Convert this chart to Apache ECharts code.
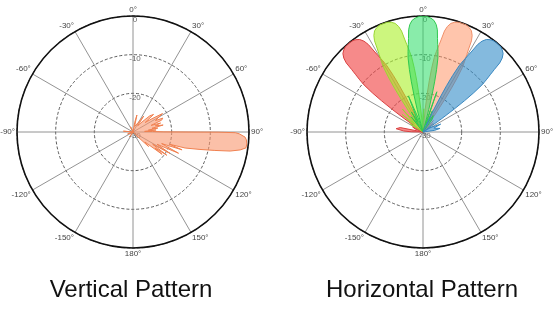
<!DOCTYPE html>
<html>
<head>
<meta charset="utf-8">
<script src="https://cdn.jsdelivr.net/npm/echarts@6/dist/echarts.min.js"></script>
<style>
html,body{margin:0;padding:0;background:#fff;}
#chart{width:555px;height:312px;}
</style>
</head>
<body>
<div id="chart"></div>
<script>
// Angle ticks (degrees, clockwise from top) and radial ticks (dB)
const angleTicks = [0, 30, 60, 90, 120, 150, 180, 210, 240, 270, 300, 330];
const radialTicks = [-30, -20, -10, 0];
const titles = ['Vertical Pattern', 'Horizontal Pattern'];

// Vertical pattern
const vAngles = [0, 5, 10, 13, 16, 22, 30, 34, 37, 42, 46, 49.5, 52, 55, 58, 60.5, 63, 65, 67.5, 70, 72, 74.5, 77, 79, 81, 83, 85, 87, 88.5, 89.7, 90.1, 90.4, 91, 92.6, 94, 96, 98, 99.5, 101.1, 102.7, 104.6, 107.1, 108.5, 110, 112, 115, 117, 120, 122, 124.5, 126, 127.5, 130, 133, 137, 145, 200, 215, 225, 250, 262, 275, 285, 320, 335, 345, 360];
const vDb = [-30, -30, -27.5, -25.5, -28.5, -29, -27, -25, -28, -26.5, -24, -23, -26, -24, -21, -21, -23.5, -21.5, -22, -25, -22.5, -24, -22, -25, -23.5, -26, -24, -27, -25, -22, -8, -3.5, -2.5, -1, -0.6, -0.4, -0.5, -1.9, -4.4, -8.3, -12.1, -15.9, -20, -16.5, -22, -17, -23, -19, -24, -19.4, -23, -20.5, -26, -24.5, -29, -30, -30, -28.5, -30, -28.5, -30, -27.5, -30, -30, -28.5, -30, -30];

// Horizontal pattern: five beams
const redAngles = [268, 271, 273, 277, 281, 284, 290, 296, 300, 304.5, 305.5, 306.3, 307, 307.7, 308.6, 309.5, 310.5, 311.2, 312, 313, 314.4, 316, 318, 320, 322, 324, 325.6, 327, 328, 328.8, 329.5, 330.5, 331.4, 332.3, 333, 333.7, 334.5, 335.5];
const redDb = [-30, -27, -25, -23, -24, -30, -28, -27, -29, -30, -24, -20, -16.5, -13.5, -10.5, -8.8, -7, -5.5, -3.3, -2, -1, -0.5, -0.1, 0, -0.1, -0.5, -1, -2, -3.3, -5.5, -7, -8.8, -10.5, -13.5, -16.5, -20, -24, -30];

const yellowAngles = [298, 302, 306, 310, 314, 318, 321, 324.5, 325.5, 326.3, 327, 327.7, 328.6, 329.5, 330.5, 331.2, 332, 333, 334.4, 336, 338, 340, 342, 344, 345.6, 347, 348, 348.8, 349.5, 350.5, 351.4, 352.3, 353, 353.7, 354.5, 355.5, 358, 2, 6];
const yellowDb = [-30, -26, -28, -23, -27, -22, -27, -30, -24, -20, -16.5, -13.5, -10.5, -8.8, -7, -5.5, -3.3, -2, -1, -0.5, -0.1, 0, -0.1, -0.5, -1, -2, -3.3, -5.5, -7, -8.8, -10.5, -13.5, -16.5, -20, -24, -30, -27, -24, -30];

const greenAngles = [318, 322, 326, 330, 334, 338, 341, 344.5, 345.5, 346.3, 347, 347.7, 348.6, 349.5, 350.5, 351.2, 352, 353, 354.4, 356, 358, 0, 2, 4, 5.6, 7, 8, 8.8, 9.5, 10.5, 11.4, 12.3, 13, 13.7, 14.5, 15.5, 17, 19, 21, 24, 28, 32, 36, 40];
const greenDb = [-30, -25, -28, -24, -27, -20, -26, -30, -24, -20, -16.5, -13.5, -10.5, -8.8, -7, -5.5, -3.3, -2, -1, -0.5, -0.1, 0, -0.1, -0.5, -1, -2, -3.3, -5.5, -7, -8.8, -10.5, -13.5, -16.5, -20, -24, -30, -27, -19, -28, -24, -27, -25, -26, -30];

const orangeAngles = [4.5, 5.5, 6.3, 7, 7.7, 8.6, 9.5, 10.5, 11.2, 12, 13, 14.4, 16, 18, 20, 22, 24, 25.6, 27, 28, 28.8, 29.5, 30.5, 31.4, 32.3, 33, 33.7, 34.5, 35.5, 42, 46, 50, 54];
const orangeDb = [-30, -24, -20, -16.5, -13.5, -10.5, -8.8, -7, -5.5, -3.3, -2, -1, -0.5, -0.1, 0, -0.1, -0.5, -1, -2, -3.3, -5.5, -7, -8.8, -10.5, -13.5, -16.5, -20, -24, -30, -26, -29, -26.5, -30];

const blueAngles = [24.5, 25.5, 26.3, 27, 27.7, 28.6, 29.5, 30.5, 31.2, 32, 33, 34.4, 36, 38, 40, 42, 44, 45.6, 47, 48, 48.8, 49.5, 50.5, 51.4, 52.3, 53, 53.7, 54.5, 55.5, 58, 62, 66, 70, 74, 78, 82, 86];
const blueDb = [-30, -24, -20, -16.5, -13.5, -10.5, -8.8, -7, -5.5, -3.3, -2, -1, -0.5, -0.1, 0, -0.1, -0.5, -1, -2, -3.3, -5.5, -7, -8.8, -10.5, -13.5, -16.5, -20, -24, -30, -28, -28, -25, -27, -26.5, -25.5, -27, -30];

function pairs(angles, db) { return angles.map((a, i) => [db[i], a]); }

const chart = echarts.init(document.getElementById('chart'), null, {renderer: 'canvas'});

function angleAxis(idx) {
  return {
    polarIndex: idx, type: 'value', min: 0, max: 360, interval: 30,
    startAngle: 90, clockwise: true,
    axisLine: {lineStyle: {color: '#111', width: 1.6}},
    axisTick: {show: false},
    axisLabel: {
      fontSize: 8, color: '#444', margin: 2, fontFamily: 'Liberation Sans',
      formatter: v => { if (v === 360) return ''; const a = v > 180 ? v - 360 : v; return a + '°'; }
    },
    splitLine: {lineStyle: {color: '#777', width: 0.8}}
  };
}
function radiusAxis(idx) {
  return {
    polarIndex: idx, type: 'value', min: -30, max: 0, interval: 10,
    axisLine: {show: false}, axisTick: {show: false},
    axisLabel: {fontSize: 8, color: '#666', margin: -2, align: 'center', verticalAlign: 'top', fontFamily: 'Liberation Sans'},
    splitLine: {lineStyle: {color: '#333', width: 0.8, type: [3, 2]}}
  };
}
function beam(idx, angles, db, fill, stroke, z) {
  return {
    type: 'line', coordinateSystem: 'polar', polarIndex: idx,
    data: pairs(angles, db), showSymbol: false, symbol: 'none',
    lineStyle: {color: stroke, width: 1},
    areaStyle: {color: fill, origin: 'start', opacity: 1},
    z: z, animation: false, clip: false
  };
}

chart.setOption({
  backgroundColor: '#fff',
  animation: false,
  polar: [
    {center: [133, 132], radius: 116},
    {center: [423, 132], radius: 116}
  ],
  angleAxis: [angleAxis(0), angleAxis(1)],
  radiusAxis: [radiusAxis(0), radiusAxis(1)],
  series: [
    beam(0, vAngles, vDb, 'rgba(248,150,110,0.6)', '#f08050', 2),
    beam(1, redAngles, redDb, 'rgba(240,60,60,0.6)', '#d94040', 2),
    beam(1, yellowAngles, yellowDb, 'rgba(170,240,40,0.6)', '#99d633', 3),
    beam(1, greenAngles, greenDb, 'rgba(40,220,100,0.55)', '#30c850', 4),
    beam(1, orangeAngles, orangeDb, 'rgba(255,140,90,0.5)', '#f0906a', 3),
    beam(1, blueAngles, blueDb, 'rgba(50,140,200,0.6)', '#3a88c0', 4)
  ],
  graphic: [
    {type: 'text', x: 131, y: 290, style: {text: titles[0], font: '24px "Liberation Sans"', fill: '#111', textAlign: 'center', textVerticalAlign: 'middle'}},
    {type: 'text', x: 422, y: 290, style: {text: titles[1], font: '24px "Liberation Sans"', fill: '#111', textAlign: 'center', textVerticalAlign: 'middle'}}
  ]
});
</script>
</body>
</html>
